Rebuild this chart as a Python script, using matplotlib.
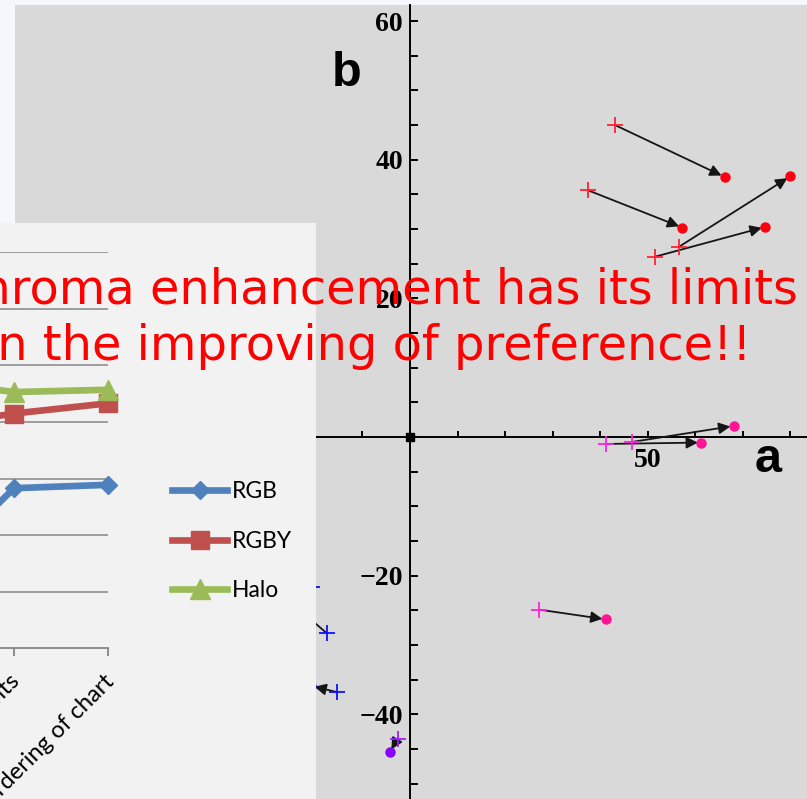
import matplotlib.pyplot as plt
import matplotlib.transforms as mtransforms
import numpy as np

# a*b* shift plot in the background: start (+) -> end (dot)
red_start = [(43.1, 45.0), (37.4, 35.6), (56.5, 27.4), (51.5, 26.0)]
red_end = [(66.2, 37.5), (57.3, 30.2), (80.0, 37.6), (74.7, 30.3)]
pink_start = [(41.3, -1.0), (46.8, -0.7), (27.2, -24.9)]
pink_end = [(61.3, -0.8), (68.1, 1.6), (41.2, -26.3)]
blue_start = [(-17.5, -28.3), (-15.3, -36.8), (-20.6, -21.6)]
blue_end = [(-26.0, -23.3), (-20.8, -35.9), (-30.0, -20.0)]
purple_start = [(-2.6, -43.5)]
purple_end = [(-4.3, -45.5)]

# preference chart pasted on top (left part only visible)
categories = ['Number of dots', 'Size of points', 'Ordering of chart']
rgb = [1.2, 2.83, 2.89]
rgby = [3.9, 4.15, 4.33]
halo = [4.74, 4.53, 4.57]

W, H = 807, 799
fig = plt.figure(figsize=(W / 100, H / 100), dpi=100, facecolor='#f4f8fd')

# ---- background a-b plot ----
ax = fig.add_axes([15 / W, 0, 792 / W, 794 / H], facecolor='#d9d9d9')
for s in ['top', 'right']:
    ax.spines[s].set_visible(False)
for s in ['left', 'bottom']:
    ax.spines[s].set_position(('data', 0))
    ax.spines[s].set_linewidth(1.4)

xt = np.arange(-80, 81, 10)
ax.set_xticks(xt)
ax.set_xticklabels(['\u221250' if v == -50 else '50' if v == 50 else '' for v in xt])
yt = np.arange(-50, 61, 5)
ax.set_yticks(yt)
ax.set_yticklabels([('%d' % v).replace('-', '\u2212') if v % 20 == 0 and v != 0 else '' for v in yt])
ax.set_xlim(-83.09, 83.51)
ax.set_ylim(-52.21, 62.31)
ax.tick_params(axis='y', direction='in', length=6, width=1.4, pad=5, labelsize=20)
ax.tick_params(axis='x', direction='in', length=4, width=1.4, pad=8, labelsize=20)
for lab in ax.get_xticklabels() + ax.get_yticklabels():
    lab.set_fontfamily('Liberation Serif')
    lab.set_fontweight('bold')

ax.plot(0, 0, 's', color='black', ms=6, zorder=5)

groups = [
    (red_start, red_end, '#ff2233', '#ff0010'),
    (pink_start, pink_end, '#ff22dd', '#ff1493'),
    (blue_start, blue_end, '#1010ff', '#1010ff'),
    (purple_start, purple_end, '#9a20ff', '#8a00ff'),
]
for starts, ends, cc, dc in groups:
    for (x0, y0), (x1, y1) in zip(starts, ends):
        ax.annotate('', xy=(x1, y1), xytext=(x0, y0),
                    arrowprops=dict(arrowstyle='-|>', color='#151515', lw=1.3,
                                    shrinkA=0, shrinkB=2.5, mutation_scale=17))
    ax.plot([p[0] for p in starts], [p[1] for p in starts], '+', ms=11, mew=1.3, color=cc, zorder=4)
    ax.plot([p[0] for p in ends], [p[1] for p in ends], 'o', ms=6.5, color=dc, zorder=4)

ax.text(75.3, -3.2, 'a', fontsize=35, fontweight='bold', family='Liberation Sans',
        ha='center', va='center')
ax.text(-13.3, 52.5, 'b', fontsize=35, fontweight='bold', family='Liberation Sans',
        ha='center', va='center')

# ---- overlaid preference chart ----
pan = fig.add_axes([0, 0, 316 / W, 576 / H], facecolor='#f2f2f2')
pan.set_xticks([])
pan.set_yticks([])
for s in pan.spines.values():
    s.set_visible(False)

cax = fig.add_axes([0, 150.7 / H, 108 / W, 396 / H])
cax.patch.set_alpha(0)
x = np.arange(len(categories))
cax.set_xticks(x)
cax.set_xticklabels(categories, rotation=45, ha='right', va='top', rotation_mode='anchor',
                    fontsize=17, family='Lato')
cax.set_yticks(range(1, 8))
cax.set_xlim(1 - 14 / 94, 2)
cax.set_ylim(0, 7)
cax.yaxis.grid(True, color='#868686', lw=1.1)
cax.set_axisbelow(True)
cax.tick_params(axis='y', length=0, labelleft=False)
for s in ['top', 'right', 'left']:
    cax.spines[s].set_visible(False)
cax.spines['bottom'].set_color('#868686')
cax.spines['bottom'].set_linewidth(1.3)
cax.tick_params(axis='x', direction='out', length=6, width=1.3, color='#868686', pad=10)
off = mtransforms.ScaledTranslation(-5 / 100, 0, fig.dpi_scale_trans)
for lab in cax.get_xticklabels():
    lab.set_transform(lab.get_transform() + off)

cax.plot(x, rgb, color='#4f81bd', lw=4.8, marker='D', ms=9.5, clip_on=False, label='RGB')
cax.plot(x, rgby, color='#c0504d', lw=4.8, marker='s', ms=13.5, clip_on=False, label='RGBY')
cax.plot(x, halo, color='#9bbb59', lw=4.8, marker='^', ms=14, clip_on=False, label='Halo')
fig.legend(*cax.get_legend_handles_labels(), loc='upper left',
           bbox_to_anchor=(172 / W, 1 - 481 / H), frameon=False, borderpad=0,
           borderaxespad=0, handlelength=2.4, handletextpad=0.2, labelspacing=1.25,
           prop={'family': 'Lato', 'size': 16.5})

# ---- red message ----
fig.text(798 / W, 1 - 303 / H, 'Chroma enhancement has its limits', ha='right',
         va='baseline', color='red', fontsize=34.5, family='DejaVu Sans')
fig.text(751 / W, 1 - 360 / H, 'on the improving of preference!!', ha='right',
         va='baseline', color='red', fontsize=34.5, family='DejaVu Sans')

fig.savefig('out.png', dpi=100, facecolor=fig.get_facecolor())
